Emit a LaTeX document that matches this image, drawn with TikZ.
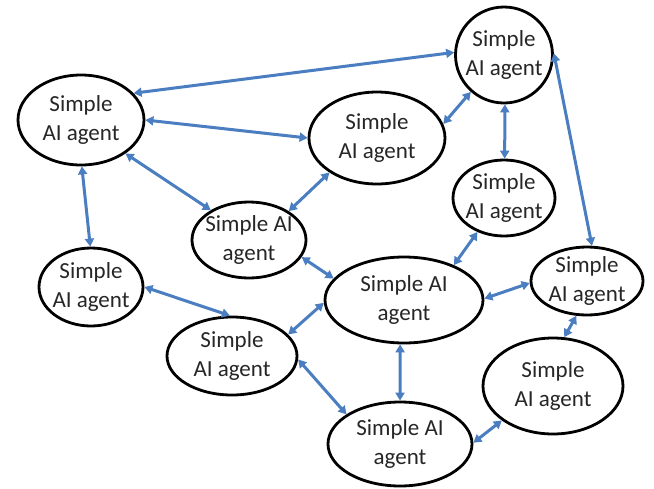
\documentclass[tikz,border=0pt]{standalone}
\usepackage{fontspec}
\setmainfont{Carlito}
\usetikzlibrary{shapes.geometric,arrows.meta}
\definecolor{linkblue}{RGB}{74,126,193}
\begin{document}
\begin{tikzpicture}[x=1pt,y=-1pt,
  agent/.style={ellipse, draw=black, line width=2.8pt, inner sep=0pt, fill=white},
  lbl/.style={align=center, font=\fontsize{23}{28.5}\selectfont, inner sep=0pt, text=black!85},
  link/.style={draw=linkblue, line width=3pt, {Triangle[length=8pt,width=9pt]}-{Triangle[length=8pt,width=9pt]}}]
\useasboundingbox (0,0) rectangle (654,488);

\node[agent, minimum width=97pt, minimum height=96pt, label={[lbl]center:{Simple\\AI agent}}] (n1) at (504,55) {};
\node[agent, minimum width=126pt, minimum height=90pt, label={[lbl]center:{Simple\\AI agent}}] (n2) at (81,120) {};
\node[agent, minimum width=136pt, minimum height=92pt, label={[lbl]center:{Simple\\AI agent}}] (n3) at (377,138) {};
\node[agent, minimum width=114pt, minimum height=76pt, label={[lbl]center:{Simple AI\\agent}}] (n4) at (249,240) {};
\node[agent, minimum width=102pt, minimum height=76pt, label={[lbl]center:{Simple\\AI agent}}] (n5) at (504,198) {};
\node[agent, minimum width=104pt, minimum height=78pt, label={[lbl]center:{Simple\\AI agent}}] (n6) at (91,287) {};
\node[agent, minimum width=158pt, minimum height=86pt, label={[lbl]center:{Simple AI\\agent}}] (n7) at (404,300) {};
\node[agent, minimum width=112pt, minimum height=68pt, label={[lbl]center:{Simple\\AI agent}}] (n8) at (587,281) {};
\node[agent, minimum width=130pt, minimum height=78pt, label={[lbl]center:{Simple\\AI agent}}] (n9) at (232,356) {};
\node[agent, minimum width=140pt, minimum height=96pt, label={[lbl]center:{Simple\\AI agent}}] (n10) at (553,386) {};
\node[agent, minimum width=144pt, minimum height=84pt, label={[lbl]center:{Simple AI\\agent}}] (n11) at (400,444) {};

\draw[link] (n2.27) -- (n1.177);
\draw[link] (n2.0) -- (n3.180);
\draw[link] (n2.-37) -- (n4.142);
\draw[link] (n2.-89) -- (n6.91);
\draw[link] (n4.36) -- (n3.216);
\draw[link] (n3.12) -- (n1.228);
\draw[link] (n1.-89) -- (n5.89);
\draw[link] (n1.2) -- (n8.82);
\draw[link] (n5.232) -- (n7.35);
\draw[link] (n4.-18) -- (n7.163);
\draw[link] (n6.0) -- (n9.93);
\draw[link] (n9.21) -- (n7.182);
\draw[link] (n9.-3) -- (n11.151);
\draw[link] (n7.-95) -- (n11.90);
\draw[link] (n7.1) -- (n8.182);
\draw[link] (n8.-107) -- (n10.77);
\draw[link] (n10.214) -- (n11.1);
\end{tikzpicture}
\end{document}
